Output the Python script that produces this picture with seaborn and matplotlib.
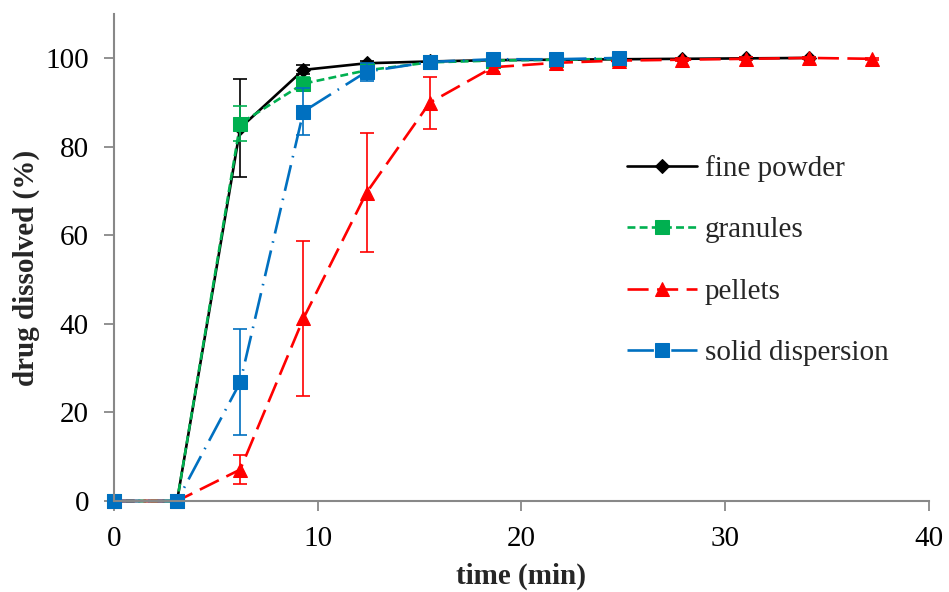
import numpy as np
import pandas as pd
import matplotlib
matplotlib.use("Agg")
import matplotlib.pyplot as plt
import seaborn as sns

# sampling times (min)
time_fine = [0, 3.1, 6.2, 9.3, 12.4, 15.5, 18.6, 21.7, 24.8, 27.9, 31.0, 34.1]
time_gran = [0, 3.1, 6.2, 9.3, 12.4, 15.5, 18.6, 21.7, 24.8]
time_pell = [0, 3.1, 6.2, 9.3, 12.4, 15.5, 18.6, 21.7, 24.8, 27.9, 31.0, 34.1, 37.2]
time_solid = [0, 3.1, 6.2, 9.3, 12.4, 15.5, 18.6, 21.7, 24.8]

# drug dissolved (%) and standard deviations
fine_powder = [0, 0, 84.2, 97.3, 98.8, 99.2, 99.5, 99.6, 99.7, 99.8, 99.9, 100.0]
fine_powder_sd = [0, 0, 11.0, 1.0, 0.6, 0.4, 0.3, 0.3, 0.2, 0.2, 0.2, 0.2]
granules = [0, 0, 85.2, 94.2, 97.2, 99.0, 99.4, 99.6, 99.8]
granules_sd = [0, 0, 4.0, 1.5, 1.0, 0.5, 0.4, 0.3, 0.2]
pellets = [0, 0, 7.1, 41.2, 69.6, 89.9, 97.9, 98.9, 99.4, 99.6, 99.8, 100.0, 99.8]
pellets_sd = [0, 0, 3.2, 17.5, 13.5, 5.9, 1.0, 0.8, 0.6, 0.3, 0.3, 0.2, 0.2]
solid_disp = [0, 0, 26.8, 87.9, 96.9, 99.1, 99.7, 99.7, 100.0]
solid_disp_sd = [0, 0, 12.0, 5.2, 2.0, 0.6, 0.4, 0.3, 0.2]

sns.set_theme(style="white")
plt.rcParams['font.family'] = ['Liberation Serif', 'DejaVu Serif']

fig, ax = plt.subplots(figsize=(9.49, 5.92), dpi=100)
fig.subplots_adjust(left=0.120, right=0.979, bottom=0.1537, top=0.977)

series = [
    ("fine powder", time_fine, fine_powder, fine_powder_sd, "black", "D", 7, None),
    ("granules", time_gran, granules, granules_sd, "#00B050", "s", 9.5, (3.0, 1.6)),
    ("pellets", time_pell, pellets, pellets_sd, "#FF0000", "^", 10, (8, 3.2)),
    ("solid dispersion", time_solid, solid_disp, solid_disp_sd, "#0070C0", "s", 10, (10, 3, 0.6, 3)),
]

handles = []
for label, t, vals, sd, color, marker, ms, dash in series:
    df = pd.DataFrame({"time": t, "dissolved": vals, "sd": sd})
    kws = dict(color=color, marker=marker, markersize=ms, markeredgecolor=color,
               linewidth=1.9, label=label, clip_on=False)
    if dash is not None:
        kws["dashes"] = dash
    sns.lineplot(data=df, x="time", y="dissolved", ax=ax, **kws)
    handles.append(ax.lines[-1])
    err = df[df["sd"] > 0]
    ax.errorbar(err["time"], err["dissolved"], yerr=err["sd"], fmt="none",
                ecolor=color, elinewidth=1.2, capsize=5, capthick=1.2)

ax.set_xlim(0, 40)
ax.set_ylim(0, 110)
ax.set_xticks([0, 10, 20, 30, 40])
ax.set_yticks([0, 20, 40, 60, 80, 100])
ax.tick_params(axis="both", labelsize=21, colors="#888888", labelcolor="black",
               direction="out", length=7, width=1.3, bottom=True, left=True)
ax.tick_params(axis="x", pad=11)
ax.tick_params(axis="y", pad=11)
for side in ["top", "right"]:
    ax.spines[side].set_visible(False)
for side in ["left", "bottom"]:
    ax.spines[side].set_color("#888888")
    ax.spines[side].set_linewidth(1.5)

ax.set_xlabel("time (min)", fontsize=21, fontweight="bold", labelpad=8)
ax.set_ylabel("drug dissolved (%)", fontsize=21, fontweight="bold")
ax.yaxis.set_label_coords(-0.091, 0.478)

ax.legend(handles=handles, loc="upper left", bbox_to_anchor=(0.629, 0.71),
          frameon=False, fontsize=21, handlelength=2.4, handletextpad=0.28,
          labelspacing=1.2, borderpad=0, borderaxespad=0)

plt.savefig("out.png", dpi=100)
